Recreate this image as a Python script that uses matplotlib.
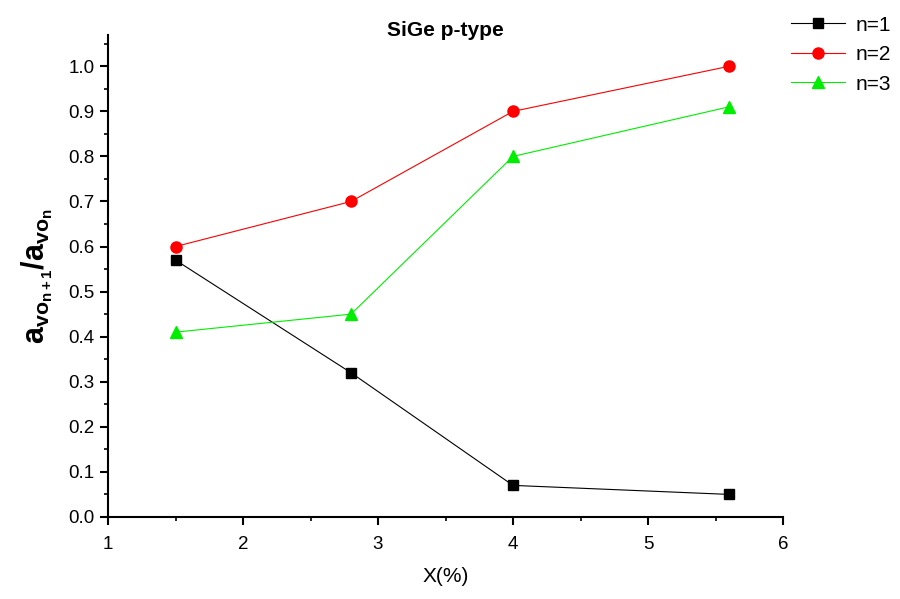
import matplotlib; matplotlib.use("Agg")
import matplotlib.pyplot as plt
from matplotlib.ticker import MultipleLocator, FormatStrFormatter

plt.rcParams["font.family"] = ["Liberation Sans", "DejaVu Sans"]
plt.rcParams["mathtext.fontset"] = "custom"
plt.rcParams["mathtext.rm"] = "Liberation Sans"
plt.rcParams["mathtext.it"] = "Liberation Sans"
plt.rcParams["mathtext.bf"] = "Liberation Sans:bold"

x = [1.5, 2.8, 4.0, 5.6]
n1 = [0.57, 0.32, 0.07, 0.05]
n2 = [0.60, 0.70, 0.90, 1.00]
n3 = [0.41, 0.45, 0.80, 0.91]

fig = plt.figure(figsize=(9, 5.99), dpi=100)
ax = fig.add_axes([0.12, 0.137, 0.75, 0.805])
l1, = ax.plot(x, n1, color="black", lw=0.8, marker="s", ms=7, label="n=1")
l2, = ax.plot(x, n2, color="red", lw=0.8, marker="o", ms=8, label="n=2")
l3, = ax.plot(x, n3, color="#00ee00", lw=0.8, marker="^", ms=9, label="n=3")

ax.set_xlim(1, 6); ax.set_ylim(0, 1.07)
ax.xaxis.set_major_locator(MultipleLocator(1)); ax.xaxis.set_minor_locator(MultipleLocator(0.5))
ax.yaxis.set_major_locator(MultipleLocator(0.1)); ax.yaxis.set_minor_locator(MultipleLocator(0.05))
ax.yaxis.set_major_formatter(FormatStrFormatter("%.1f"))
for s in ("top", "right"):
    ax.spines[s].set_visible(False)
for s in ("left", "bottom"):
    ax.spines[s].set_linewidth(1.5)
ax.tick_params(which="major", direction="out", length=6, width=1.5, labelsize=13.5)
ax.tick_params(axis="x", which="major", pad=8)
ax.tick_params(which="minor", direction="out", length=3, width=1.2)

ax.set_xlabel("X(%)", fontsize=15, labelpad=10)
ax.set_ylabel(r"$\mathbf{a_{vo_{n+1}}/a_{vo_n}}$", fontsize=22, labelpad=10)
fig.text(0.495, 1 - 31 / 599, "SiGe p-type", fontsize=15, fontweight="bold", ha="center", va="center")

fig.legend(handles=[l1, l2, l3], loc="upper left", bbox_to_anchor=(0.858, 1.005),
           frameon=False, fontsize=15, handlelength=2.6, labelspacing=0.5, handletextpad=0.5)
fig.savefig("out.png", dpi=100)
